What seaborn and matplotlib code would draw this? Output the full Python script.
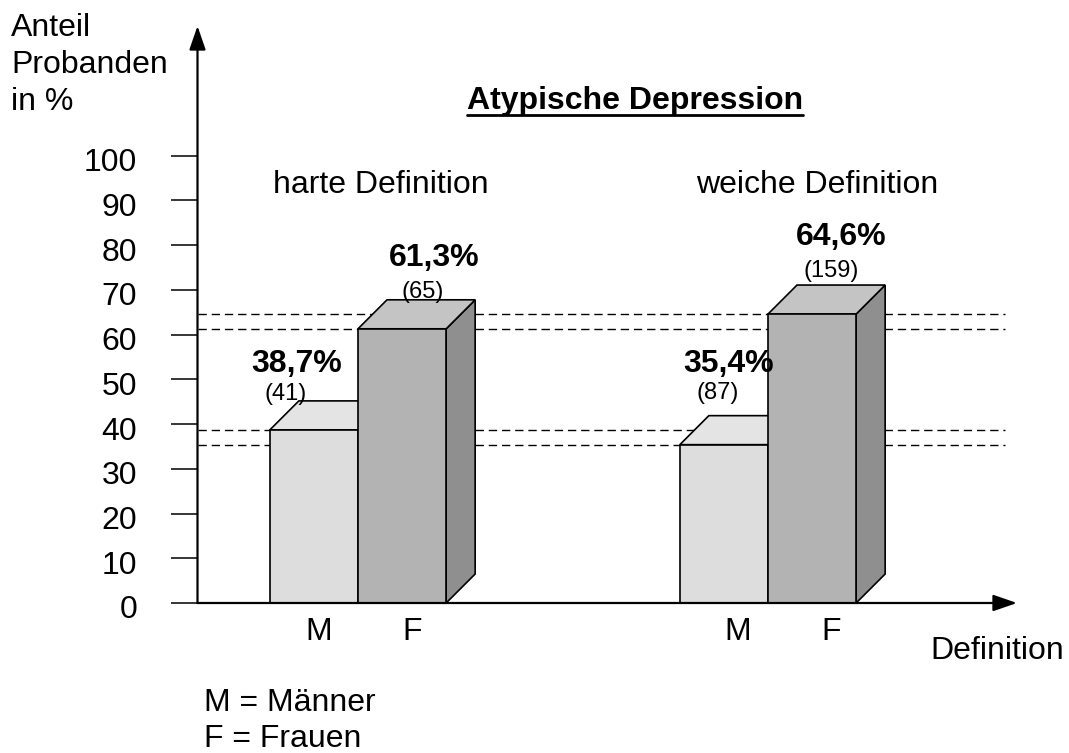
import matplotlib
matplotlib.use("Agg")
import matplotlib.pyplot as plt
import seaborn as sns
import pandas as pd
from matplotlib.patches import Polygon
from matplotlib.lines import Line2D
import matplotlib.transforms as mtrans

# ---------------- data ----------------
groups = ["harte Definition", "weiche Definition"]
sexes = ["M", "F"]
values_M = [38.7, 35.4]
values_F = [61.3, 64.6]
counts_M = [41, 87]
counts_F = [65, 159]
pct_labels_M = ["38,7%", "35,4%"]
pct_labels_F = ["61,3%", "64,6%"]
yticks = [0, 10, 20, 30, 40, 50, 60, 70, 80, 90, 100]
title = "Atypische Depression"
ylabel_lines = ["Anteil", "Probanden", "in %"]
xlabel = "Definition"
legend_lines = ["M = Männer", "F = Frauen"]

df = pd.DataFrame({
    "group": groups * 2,
    "sex": ["M"] * len(groups) + ["F"] * len(groups),
    "value": values_M + values_F,
})

# ---------------- layout ----------------
W, H = 1069, 753
sns.set_style("white")
plt.rcParams["font.family"] = ["Liberation Sans", "DejaVu Sans"]
plt.rcParams["text.color"] = "black"
plt.rcParams["xtick.color"] = "black"
plt.rcParams["ytick.color"] = "black"
plt.rcParams["axes.labelcolor"] = "black"
FS = 23

fig = plt.figure(figsize=(W / 100, H / 100), dpi=100)
ax_left, ax_right, ax_bottom, ax_top = 197.5, 1017, 603, 26
ax = fig.add_axes([ax_left / W, 1 - ax_bottom / H,
                   (ax_right - ax_left) / W, (ax_bottom - ax_top) / H])

PXX = 410.0      # pixels per x data unit
PXY = 4.473      # pixels per y data unit
x_center0 = 358.0

c_M_front, c_M_top = "#dddddd", "#e4e4e4"
c_F_front, c_F_top, c_F_side = "#b3b3b3", "#c4c4c4", "#8f8f8f"
EC = "black"
LW = 1.2

sns.barplot(data=df, x="group", y="value", hue="sex", hue_order=sexes,
            palette=[c_M_front, c_F_front], saturation=1, width=0.43,
            edgecolor=EC, linewidth=LW, legend=False, ax=ax, errorbar=None)

ax.set_xlim((ax_left - x_center0) / PXX, (ax_right - x_center0) / PXX)
ax.set_ylim(0, (ax_bottom - ax_top) / PXY)

# dashed reference lines
xmax_dash = (1005 - x_center0) / PXX
ax.hlines(values_F + values_M, ax.get_xlim()[0], xmax_dash, colors="black",
          linestyles=(0, (6, 3.5)), linewidth=1.0, zorder=1)

# 3D faces
ddx = 29 / PXX
ddy = 29 / PXY
tops = {"M": c_M_top, "F": c_F_top}
sides = {"M": c_M_front, "F": c_F_side}
bars = []
for si, (sex, cont) in enumerate(zip(sexes, ax.containers)):
    z = 2 + si
    for bi, p in enumerate(cont.patches):
        p.set_zorder(z + 0.2)
        x0, w, h = p.get_x(), p.get_width(), p.get_height()
        top = Polygon([(x0, h), (x0 + ddx, h + ddy), (x0 + w + ddx, h + ddy), (x0 + w, h)],
                      closed=True, facecolor=tops[sex], edgecolor=EC, linewidth=LW,
                      zorder=z, joinstyle="miter")
        side = Polygon([(x0 + w, 0), (x0 + w + ddx, ddy), (x0 + w + ddx, h + ddy), (x0 + w, h)],
                       closed=True, facecolor=sides[sex], edgecolor=EC, linewidth=LW,
                       zorder=z, joinstyle="miter")
        ax.add_patch(side)
        ax.add_patch(top)
        bars.append((sex, bi, x0 + w / 2, h))

# value labels (offsets in pixels relative to front-top centre)
pct_off = {("M", 0): (-17, -58, -28, -30), ("F", 0): (32, -63, 21, -31),
           ("M", 1): (5, -73, -6, -46), ("F", 1): (29, -69, 19, -37)}
for sex, bi, cx, h in bars:
    o = pct_off[(sex, bi)]
    pct = (pct_labels_M if sex == "M" else pct_labels_F)[bi]
    cnt = (counts_M if sex == "M" else counts_F)[bi]
    ax.text(cx + o[0] / PXX, h - o[1] / PXY, pct, ha="center", va="baseline",
            fontsize=FS, fontweight="bold", zorder=6)
    ax.text(cx + o[2] / PXX, h - o[3] / PXY, f"({cnt})", ha="center", va="baseline",
            fontsize=17, zorder=6)

# x tick labels M / F
tick_off = {("M", 0): 5, ("F", 0): 10, ("M", 1): 14, ("F", 1): 19}
bars_sorted = sorted(bars, key=lambda b: b[2])
ax.set_xticks([b[2] + tick_off[(b[0], b[1])] / PXX for b in bars_sorted])
ax.set_xticklabels([b[0] for b in bars_sorted])
ax.tick_params(axis="x", length=0, pad=10, labelsize=FS)
ax.set_xlabel("")
ax.set_ylabel("")

# y ticks
ax.set_yticks(yticks)
ax.set_yticklabels([str(t) for t in yticks])
ax.tick_params(axis="y", direction="out", length=27 / 1.389, width=1.1,
               pad=24, labelsize=FS, color="black", left=True)
for lab in ax.get_yticklabels():
    lab.set_transform(lab.get_transform() +
                      mtrans.ScaledTranslation(0, -4 / 100, fig.dpi_scale_trans))

for s in ax.spines.values():
    s.set_visible(False)

# axes with arrows
arrow = dict(arrowstyle="-|>,head_length=1.45,head_width=0.5", color="black",
             lw=1.6, shrinkA=0, shrinkB=0, mutation_scale=10)
ax.annotate("", xy=(0, 1), xytext=(0, 0), xycoords="axes fraction",
            textcoords="axes fraction", arrowprops=arrow, annotation_clip=False, zorder=7)
ax.annotate("", xy=(1, 0), xytext=(0, 0), xycoords="axes fraction",
            textcoords="axes fraction", arrowprops=arrow, annotation_clip=False, zorder=7)


def px(x, y):
    return x / W, 1 - y / H


# group labels
fig.text(*px(381, 193), groups[0], ha="center", va="baseline", fontsize=FS)
fig.text(*px(817, 193), groups[1], ha="center", va="baseline", fontsize=FS)

# title (bold, underlined)
t = fig.text(*px(635, 109), title, ha="center", va="baseline", fontsize=FS,
             fontweight="bold")

# y label lines
for txt, yb in zip(ylabel_lines, [36, 73, 110]):
    fig.text(*px(11, yb), txt, ha="left", va="baseline", fontsize=FS)

fig.text(*px(930, 659), xlabel, ha="left", va="baseline", fontsize=FS)
for txt, yb in zip(legend_lines, [711, 747]):
    fig.text(*px(204, yb), txt, ha="left", va="baseline", fontsize=FS)

fig.canvas.draw()
bb = t.get_window_extent(fig.canvas.get_renderer())
inv = fig.transFigure.inverted()
(x0f, y0f), (x1f, _) = inv.transform([(bb.x0, bb.y0 + 1), (bb.x1, bb.y0)])
fig.add_artist(Line2D([x0f, x1f], [y0f, y0f], color="black", lw=2.0,
                      transform=fig.transFigure))

fig.savefig("out.png", dpi=100, facecolor="white")
